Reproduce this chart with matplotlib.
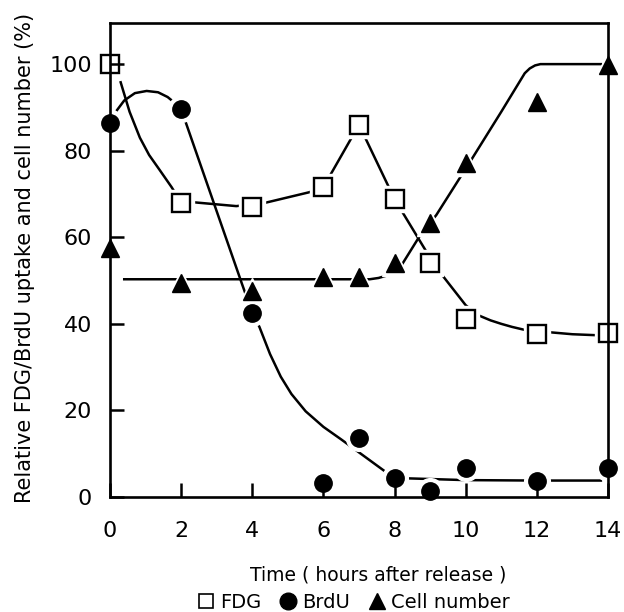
import matplotlib
matplotlib.use("Agg")
import matplotlib.pyplot as plt
from matplotlib.lines import Line2D

plt.rcParams["font.family"] = ["DejaVu Sans"]

# measured points
hours = [0, 2, 4, 6, 7, 8, 9, 10, 12, 14]
fdg = [100, 68, 67, 71.6, 86, 68.8, 54, 41.1, 37.6, 37.9]
brdu = [86.4, 89.6, 42.5, 3.2, 13.6, 4.4, 1.4, 6.7, 3.7, 6.7]
cells = [57.5, 49.4, 47.6, 50.8, 50.8, 54, 63.3, 77.1, 91.2, 99.8]

# hand-drawn fit curves
fdg_fit_x = [0.3, 0.55, 0.84, 1.1, 1.4, 1.73, 2, 2.33, 3.55, 4.33, 5.6, 6, 7, 8,
             8.9, 9.23, 10.0, 10.35, 10.7, 11.0, 11.3, 11.66, 12.3, 13.0, 13.6]
fdg_fit_y = [95.8, 89, 83, 79, 75.5, 71.6, 68, 68.1, 67.2, 67.9, 70.4, 71.6, 86, 68.8,
             56.6, 52.4, 44.3, 42, 40.8, 40, 39.3, 38.6, 38.1, 37.6, 37.4]

brdu_hump_x = [0.2, 0.4, 0.7, 1.03, 1.35, 1.62, 1.9]
brdu_hump_y = [89.4, 91.6, 93.3, 93.8, 93.5, 92.4, 90.5]

brdu_fit_x = [2, 3.72, 4, 4.2, 4.5, 4.8, 5.1, 5.5, 6.0, 6.5, 7.0, 7.5, 7.75, 8,
              10, 12, 13.8]
brdu_fit_y = [89.6, 49.0, 42.5, 39.3, 33.0, 27.8, 23.8, 19.8, 16.2, 13.3, 10.3, 7.3,
              5.8, 4.4, 3.9, 3.8, 3.8]

cell_fit_x = [0.4, 7.3, 7.55, 7.8, 8.0, 8.2, 8.76, 9.17, 10.15, 11.0, 11.66, 11.8,
              11.95, 12.1, 13.8]
cell_fit_y = [50.3, 50.3, 50.6, 51.2, 52.0, 53.6, 61, 65.1, 77.8, 89, 97.9, 99.0,
              99.7, 100, 100]

x_ticks = [0, 2, 4, 6, 8, 10, 12, 14]
y_ticks = [0, 20, 40, 60, 80, 100]

LW = 1.8
MS = 12.5

fig = plt.figure(figsize=(6.24, 6.12), dpi=100)
ax = fig.add_axes([110 / 624, 1 - 497 / 612, 498 / 624, 474 / 612])

ax.plot(fdg_fit_x, fdg_fit_y, color="black", lw=LW, zorder=2)
ax.plot(brdu_hump_x, brdu_hump_y, color="black", lw=LW, zorder=2)
ax.plot(brdu_fit_x, brdu_fit_y, color="black", lw=LW, zorder=2)
ax.plot(cell_fit_x, cell_fit_y, color="black", lw=LW, zorder=2)

# white halo so fit lines stop short of the symbols
for series, marker in [(fdg, "s"), (brdu, "o"), (cells, "^")]:
    ax.plot(hours, series, ls="none", marker=marker, ms=MS + 6, mfc="white",
            mec="white", zorder=3, clip_on=False)

ax.plot(hours, fdg, ls="none", marker="s", ms=MS, mfc="white", mec="black",
        mew=1.7, zorder=4, clip_on=False)
ax.plot(hours, brdu, ls="none", marker="o", ms=MS, mfc="black", mec="black",
        zorder=4, clip_on=False)
ax.plot(hours, cells, ls="none", marker="^", ms=MS, mfc="black", mec="black",
        zorder=4, clip_on=False)

ax.set_xlim(0, 14)
ax.set_ylim(0, 109.5)
ax.set_xticks(x_ticks)
ax.set_yticks(y_ticks)
ax.tick_params(direction="in", length=10, width=1.8, labelsize=16)
ax.tick_params(axis="x", pad=17)
ax.tick_params(axis="y", pad=13)
ax.xaxis.set_zorder(5)
ax.yaxis.set_zorder(5)
for spine in ax.spines.values():
    spine.set_linewidth(1.9)
    spine.set_zorder(5)

ax.set_ylabel("Relative FDG/BrdU uptake and cell number (%)", fontsize=15)
ax.yaxis.set_label_coords(-0.15, 0.505)
ax.set_xlabel("Time ( hours after release )", fontsize=13.5)
ax.xaxis.set_label_coords(0.538, -0.145)

handles = [
    Line2D([], [], ls="none", marker="s", ms=10, mfc="white", mec="black", mew=1.2),
    Line2D([], [], ls="none", marker="o", ms=12, mfc="black", mec="black"),
    Line2D([], [], ls="none", marker="^", ms=11, mfc="black", mec="black"),
]
fig.legend(handles, ["FDG", "BrdU", "Cell number"], loc="center",
           bbox_to_anchor=(354 / 624, 1 - 602 / 612), ncol=3, frameon=False,
           fontsize=14, handlelength=0.8, handletextpad=0.3, columnspacing=1.0,
           borderpad=0)

fig.savefig("out.png", dpi=100)
